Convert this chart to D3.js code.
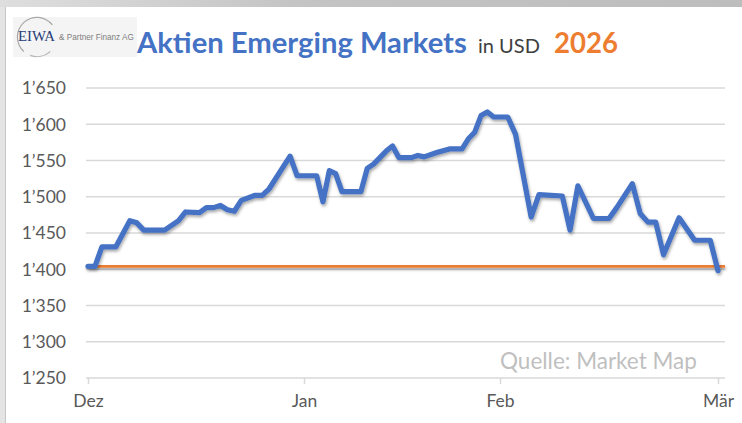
<!DOCTYPE html>
<html>
<head>
<meta charset="utf-8">
<script src="https://cdn.jsdelivr.net/npm/d3@7"></script>
<style>
  body { margin: 0; background: #fff; }
  svg { display: block; font-family: Lato, "Open Sans", sans-serif; }
</style>
</head>
<body>
<div id="graf"></div>
<script>
// Daten
const daten = [
  "2025-12-01", "2025-12-02", "2025-12-03", "2025-12-05", "2025-12-07", "2025-12-08",
  "2025-12-09", "2025-12-12", "2025-12-14", "2025-12-15", "2025-12-17", "2025-12-18",
  "2025-12-19", "2025-12-20", "2025-12-21", "2025-12-22", "2025-12-23", "2025-12-25",
  "2025-12-26", "2025-12-27", "2025-12-30", "2025-12-31", "2026-01-03", "2026-01-04",
  "2026-01-05", "2026-01-06", "2026-01-07", "2026-01-10", "2026-01-11", "2026-01-12",
  "2026-01-14", "2026-01-15", "2026-01-16", "2026-01-18", "2026-01-19", "2026-01-20",
  "2026-01-22", "2026-01-24", "2026-01-26", "2026-01-27", "2026-01-28", "2026-01-29",
  "2026-01-30", "2026-01-31", "2026-02-02", "2026-02-03", "2026-02-05", "2026-02-06",
  "2026-02-09", "2026-02-10", "2026-02-11", "2026-02-13", "2026-02-15", "2026-02-16",
  "2026-02-18", "2026-02-19", "2026-02-20", "2026-02-21", "2026-02-22", "2026-02-24",
  "2026-02-26", "2026-02-28", "2026-03-01",
]
const werte = [
  1404, 1404, 1431, 1431, 1467, 1464,
  1454, 1454, 1467, 1479, 1478, 1485,
  1485, 1488, 1482, 1480, 1495, 1502,
  1502, 1511, 1556, 1529, 1529, 1493,
  1536, 1532, 1507, 1507, 1539, 1545,
  1563, 1570, 1554, 1554, 1557, 1555,
  1561, 1566, 1566, 1580, 1589, 1612,
  1617, 1610, 1610, 1586, 1472, 1503,
  1501, 1454, 1515, 1470, 1470, 1485,
  1518, 1477, 1465, 1465, 1420, 1471,
  1440, 1440, 1398,
]
const startwert = 1404

const yTicks = [1250, 1300, 1350, 1400, 1450, 1500, 1550, 1600, 1650]
const monate = ["Dez", "Jan", "Feb", "Mär"]
const monatsDaten = ["2025-12-01", "2026-01-01", "2026-02-01", "2026-03-01"]

const anchoTotal = 742
const altoTotal = 423
const parseDate = d3.timeParse("%Y-%m-%d")
const fmt = (v) => d3.format(",")(v).replace(",", "’")

const svg = d3.select("#graf")
  .append("svg")
  .attr("width", anchoTotal)
  .attr("height", altoTotal)

const defs = svg.append("defs")
defs.append("filter")
  .attr("id", "schatten")
  .attr("filterUnits", "userSpaceOnUse")
  .attr("x", 0).attr("y", 0).attr("width", anchoTotal).attr("height", altoTotal)
  .append("feDropShadow")
  .attr("dx", 1).attr("dy", 2).attr("stdDeviation", 1.6)
  .attr("flood-color", "#000").attr("flood-opacity", 0.35)

const grad = defs.append("linearGradient").attr("id", "rahmen")
grad.append("stop").attr("offset", "0%").attr("stop-color", "#dedede")
grad.append("stop").attr("offset", "40%").attr("stop-color", "#c4c4c4")
grad.append("stop").attr("offset", "100%").attr("stop-color", "#bdbdbd")

// Rahmen
svg.append("rect").attr("width", anchoTotal).attr("height", altoTotal).attr("fill", "#fff")
svg.append("rect").attr("width", anchoTotal).attr("height", 7).attr("fill", "url(#rahmen)")
svg.append("rect").attr("y", 7).attr("width", 5).attr("height", altoTotal - 7).attr("fill", "#e4e4e4")
svg.append("line").attr("x1", 5.5).attr("x2", 5.5).attr("y1", 7).attr("y2", altoTotal)
  .attr("stroke", "#c6c6c6").attr("stroke-width", 1)

// Skalen
const x = d3.scaleTime()
  .domain(monatsDaten.map(parseDate))
  .range([88, 304, 500, 718])

const y = d3.scaleLinear()
  .domain([1250, 1650])
  .range([378, 88])

// Gitterlinien
svg.append("g")
  .selectAll("line")
  .data(yTicks)
  .enter()
  .append("line")
  .attr("x1", 86)
  .attr("x2", 725)
  .attr("y1", (d) => y(d))
  .attr("y2", (d) => y(d))
  .attr("stroke", "#d9d9d9")
  .attr("stroke-width", 1.5)

// Y-Achse Beschriftung
svg.append("g")
  .selectAll("text")
  .data(yTicks)
  .enter()
  .append("text")
  .attr("x", 66)
  .attr("y", (d) => y(d))
  .attr("dy", "0.36em")
  .attr("text-anchor", "end")
  .attr("font-size", 17.5)
  .attr("fill", "#595959")
  .text(fmt)

// X-Achse
const xAxis = d3.axisBottom(x)
  .tickValues(monatsDaten.map(parseDate))
  .tickFormat((d, i) => monate[i])
  .tickSize(6)
  .tickPadding(11)

const gx = svg.append("g")
  .attr("transform", `translate(0,${y(1250)})`)
  .call(xAxis)
gx.select(".domain").remove()
gx.selectAll(".tick line").attr("stroke", "#d9d9d9").attr("stroke-width", 1.5)
gx.selectAll(".tick text")
  .attr("font-size", 17.5)
  .attr("font-family", "Lato, sans-serif")
  .attr("fill", "#595959")

// Startlinie (orange)
svg.append("line")
  .attr("x1", x(parseDate(monatsDaten[0])))
  .attr("x2", 725)
  .attr("y1", y(startwert))
  .attr("y2", y(startwert))
  .attr("stroke", "#ed7d31")
  .attr("stroke-width", 2.6)
  .attr("filter", "url(#schatten)")

// Kurs
const linea = d3.line()
  .x((d, i) => x(parseDate(daten[i])))
  .y((d) => y(d))

svg.append("path")
  .datum(werte)
  .attr("d", linea)
  .attr("fill", "none")
  .attr("stroke", "#4472c4")
  .attr("stroke-width", 5.2)
  .attr("stroke-linejoin", "round")
  .attr("stroke-linecap", "round")
  .attr("filter", "url(#schatten)")

// Text auf Breite bringen
const fit = (sel, breite) => {
  const w = sel.node().getComputedTextLength()
  const fs = +sel.attr("font-size")
  sel.attr("font-size", (fs * breite) / w)
  return sel
}

// Quelle
fit(svg.append("text")
  .attr("x", 500)
  .attr("y", 369)
  .attr("font-size", 20)
  .attr("fill", "#bfbfbf")
  .text("Quelle: Market Map"), 197)

// Logo
const logo = svg.append("g")
logo.append("rect")
  .attr("x", 13).attr("y", 17).attr("width", 124).attr("height", 40)
  .attr("fill", "#f4f4f4")
logo.append("path")
  .attr("d", d3.arc()({ innerRadius: 19, outerRadius: 20.2, startAngle: -2.4, endAngle: 0.9 }))
  .attr("transform", "translate(37,37)")
  .attr("fill", "#a8a8a8")
logo.append("path")
  .attr("d", d3.arc()({ innerRadius: 19, outerRadius: 20.2, startAngle: 2.4, endAngle: 3.5 }))
  .attr("transform", "translate(37,37)")
  .attr("fill", "#b8b8b8")
fit(logo.append("text")
  .attr("x", 18).attr("y", 41)
  .attr("font-family", "'Liberation Serif', 'DejaVu Serif', serif")
  .attr("font-size", 13)
  .attr("fill", "#1f3c78")
  .text("EIWA"), 37)
fit(logo.append("text")
  .attr("x", 59).attr("y", 40)
  .attr("font-family", "'Liberation Sans Narrow', 'Liberation Sans', sans-serif")
  .attr("font-size", 8)
  .attr("fill", "#7f7f7f")
  .text("& Partner Finanz AG"), 75)

// Titel
fit(svg.append("text")
  .attr("x", 137).attr("y", 53)
  .attr("font-size", 26)
  .attr("font-weight", "bold")
  .attr("fill", "#4472c4")
  .text("Aktien Emerging Markets"), 330)
fit(svg.append("text")
  .attr("x", 478).attr("y", 53)
  .attr("font-size", 19)
  .attr("fill", "#404040")
  .text("in USD"), 62)
fit(svg.append("text")
  .attr("x", 554).attr("y", 53)
  .attr("font-size", 26)
  .attr("font-weight", "bold")
  .attr("fill", "#ed7d31")
  .text("2026"), 64)
</script>
</body>
</html>
